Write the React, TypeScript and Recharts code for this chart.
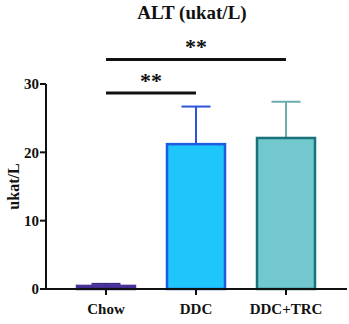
import React from 'react';
import { BarChart, Bar, XAxis, YAxis, Cell, ReferenceLine } from 'recharts';

const categories = ['Chow', 'DDC', 'DDC+TRC'];
const means = [0.45, 21.2, 22.1];
const errors = [0.3, 5.5, 5.3];
const yTicks = [0, 10, 20, 30];
const fills = ['#3b2a85', '#1ec6fc', '#72c8cc'];
const strokes = ['#4a3199', '#1f5de0', '#1a7378'];
const errColors = ['#3b2a85', '#2a55d8', '#6aaeb0'];
const sigPairs = [
  { from: 'Chow', to: 'DDC', y: 28.7, label: '**' },
  { from: 'Chow', to: 'DDC+TRC', y: 33.6, label: '**' },
];

const data = categories.map((c, i) => ({ name: c, value: means[i], err: errors[i], idx: i }));

const FONT = '"Liberation Serif", "Times New Roman", serif';

const BarShape = (props: any) => {
  const { x, y, width, height, payload } = props;
  const i = payload.idx;
  const ppu = height / payload.value;
  const errTop = y - payload.err * ppu;
  const cx = x + width / 2;
  const capHalf = width / 4;
  return (
    <g>
      <line x1={cx} x2={cx} y1={y} y2={errTop} stroke={errColors[i]} strokeWidth={2} />
      <line x1={cx - capHalf} x2={cx + capHalf} y1={errTop} y2={errTop} stroke={errColors[i]} strokeWidth={2} />
      <rect x={x} y={y} width={width} height={height} fill={fills[i]} stroke={strokes[i]} strokeWidth={2.5} />
    </g>
  );
};

const SigLabel = (props: any) => {
  const { viewBox, value } = props;
  const cx = viewBox.x + viewBox.width / 2;
  return (
    <text x={cx} y={viewBox.y - 5} textAnchor="middle" fontFamily={FONT} fontWeight="bold" fontSize={22} fill="#111">
      {value}
    </text>
  );
};

const YLabel = (props: any) => {
  const { viewBox } = props;
  const cy = viewBox.y + viewBox.height / 2;
  return (
    <text x={19} y={cy} transform={`rotate(-90, 19, ${cy})`} textAnchor="middle" fontFamily={FONT} fontWeight="bold" fontSize={16} fill="#111">
      ukat/L
    </text>
  );
};

export default function App() {
  return (
    <div style={{ position: 'absolute', left: 0, top: 0, width: 349, height: 324, background: '#fff' }}>
      <div style={{ position: 'absolute', left: 0, top: 2, width: 384, textAlign: 'center', fontFamily: FONT, fontWeight: 'bold', fontSize: 19, color: '#111' }}>
        ALT (ukat/L)
      </div>
      <BarChart width={349} height={324} data={data} margin={{ top: 84, right: 2, bottom: 5, left: 0 }} barSize={58}>
        <XAxis
          dataKey="name"
          padding={{ left: 15, right: 16 }}
          axisLine={{ stroke: '#111', strokeWidth: 2 }}
          tickLine={{ stroke: '#111', strokeWidth: 2 }}
          tickSize={6}
          tickMargin={8}
          tick={{ fontFamily: FONT, fontWeight: 'bold', fontSize: 15, fill: '#111' }}
          interval={0}
        />
        <YAxis
          domain={[0, 30]}
          ticks={yTicks}
          width={46}
          axisLine={{ stroke: '#111', strokeWidth: 2 }}
          tickLine={{ stroke: '#111', strokeWidth: 2 }}
          tickSize={6}
          tickMargin={1}
          tick={{ fontFamily: FONT, fontWeight: 'bold', fontSize: 15, fill: '#111' }}
          label={<YLabel />}
        />
        <Bar dataKey="value" isAnimationActive={false} shape={BarShape}>
          {data.map((d, i) => (
            <Cell key={i} fill={fills[i]} />
          ))}
        </Bar>
        {sigPairs.map((s, i) => (
          <ReferenceLine
            key={i}
            segment={[{ x: s.from, y: s.y }, { x: s.to, y: s.y }]}
            stroke="#111"
            strokeWidth={3}
            ifOverflow="visible"
            label={<SigLabel value={s.label} />}
          />
        ))}
      </BarChart>
    </div>
  );
}
